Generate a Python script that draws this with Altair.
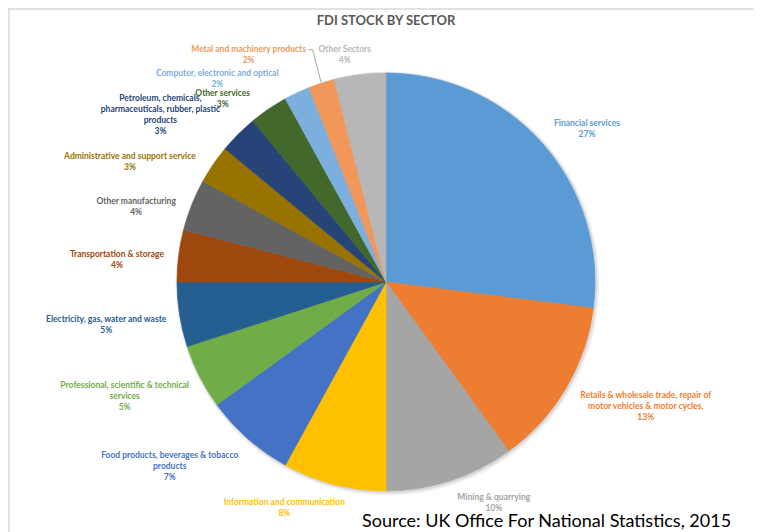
import math
import altair as alt
import numpy as np
import pandas as pd

# ---------------- data ----------------
sectors = [
    "Financial services",
    "Retails & wholesale trade, repair of motor vehicles & motor cycles,",
    "Mining & quarrying",
    "Information and communication",
    "Food products, beverages & tobacco products",
    "Professional, scientific & technical services",
    "Electricity, gas, water and waste",
    "Transportation  & storage",
    "Other manufacturing",
    "Administrative and support service",
    "Petroleum, chemicals, pharmaceuticals, rubber, plastic products",
    "Other services",
    "Computer, electronic and optical",
    "Metal and machinery products",
    "Other Sectors",
]
values = [27, 13, 10, 8, 7, 5, 5, 4, 4, 3, 3, 3, 2, 2, 4]

# label text as wrapped in the chart
label_names = [
    "Financial services",
    "Retails & wholesale trade, repair of\nmotor vehicles & motor cycles,",
    "Mining & quarrying",
    "Information and communication",
    "Food products, beverages & tobacco\nproducts",
    "Professional, scientific & technical\nservices",
    "Electricity, gas, water and waste",
    "Transportation  & storage",
    "Other manufacturing",
    "Administrative and support service",
    "Petroleum, chemicals,\npharmaceuticals, rubber, plastic\nproducts",
    "Other services",
    "Computer, electronic and optical",
    "Metal and machinery products",
    "Other Sectors",
]

# ---------------- styles / layout ----------------
colors = [
    "#5B9BD5", "#ED7D31", "#A5A5A5", "#FFC000", "#4472C4",
    "#70AD47", "#255E91", "#9E480E", "#636363", "#997300",
    "#264478", "#43682B", "#7CAFDD", "#F1975A", "#B7B7B7",
]
# label placement around the pie: angular nudge (deg) from slice middle, distance from centre (px)
label_nudge_deg = [4.0, -5.0, -8.1, 9.9, 8.2, 3.5, 0.4, -2.5, -4.8, -9.0, -8.4, -7.4, -14.5, -13.1, -3.1]
label_radius = [253, 288, 245, 247, 284, 285, 283, 270, 261, 283, 281, 246, 264, 266, 231]

W, H = 746, 524
cx, cy, R = 378, 274, 209
FONT = "Lato"
LH = 11  # label line height

# ---------------- derived table ----------------
total = sum(values)
cum = np.cumsum([0] + values[:-1])
mid = [(c + v / 2) / total * 360 for c, v in zip(cum, values)]
ang = [m + n for m, n in zip(mid, label_nudge_deg)]
labels_txt = [f"{n}\n{v}%" for n, v in zip(label_names, values)]
nlines = [t.count("\n") + 1 for t in labels_txt]
lx = [cx + r * math.sin(math.radians(a)) for a, r in zip(ang, label_radius)]
# block centre -> first line position
ly = [cy - r * math.cos(math.radians(a)) - (n - 1) * LH / 2
      for a, r, n in zip(ang, label_radius, nlines)]

df = pd.DataFrame({
    "idx": list(range(len(sectors))),
    "sector": sectors,
    "value": values,
    "label": labels_txt,
    "lx": lx,
    "ly": ly,
})

color_scale = alt.Scale(domain=sectors, range=colors)

one = pd.DataFrame({"k": [0]})

# frame
frame_top = alt.Chart(one).mark_rule(color="#d9d9d9", strokeWidth=1.5).encode(
    x=alt.value(0), x2=alt.value(W), y=alt.value(1))
frame_left = alt.Chart(one).mark_rule(color="#d9d9d9", strokeWidth=1.5).encode(
    x=alt.value(1), y=alt.value(0), y2=alt.value(H))

# soft shadow
shadow1 = alt.Chart(one).mark_arc(radius=R + 3, theta=0, theta2=2 * math.pi,
                                  color="#000000", opacity=0.05).encode(
    x=alt.value(cx + 1.5), y=alt.value(cy + 1.5))
shadow2 = alt.Chart(one).mark_arc(radius=R + 1.5, theta=0, theta2=2 * math.pi,
                                  color="#000000", opacity=0.10).encode(
    x=alt.value(cx + 1), y=alt.value(cy + 1))

pie = alt.Chart(df).mark_arc(radius=R, strokeWidth=0.6).encode(
    theta=alt.Theta("value:Q", stack=True),
    order=alt.Order("idx:Q"),
    color=alt.Color("sector:N", scale=color_scale, legend=None),
    stroke=alt.Color("sector:N", scale=color_scale, legend=None),
    x=alt.value(cx),
    y=alt.value(cy),
)

labels = alt.Chart(df).mark_text(
    font=FONT, fontSize=8.5, fontWeight="bold", lineBreak="\n", lineHeight=LH,
    align="center", baseline="middle",
).encode(
    x=alt.X("lx:Q", scale=None),
    y=alt.Y("ly:Q", scale=None),
    text="label:N",
    color=alt.Color("sector:N", scale=color_scale, legend=None),
)

# leader line for the metal label
mi = sectors.index("Metal and machinery products")
ma = math.radians(mid[mi])
leader_df = pd.DataFrame({
    "o": [0, 1, 2],
    "x": [lx[mi] + 60, lx[mi] + 64, cx + (R + 1) * math.sin(ma)],
    "y": [ly[mi] + 1, ly[mi] + 1, cy - (R + 1) * math.cos(ma)],
})
leader = alt.Chart(leader_df).mark_line(color="#a6a6a6", strokeWidth=1).encode(
    x=alt.X("x:Q", scale=None), y=alt.Y("y:Q", scale=None), order="o:Q")

title = alt.Chart(one).mark_text(
    font=FONT, fontSize=13, fontWeight="bold", color="#595959",
    align="center", baseline="middle",
).encode(x=alt.value(cx), y=alt.value(13), text=alt.value("FDI STOCK BY SECTOR"))

source = alt.Chart(one).mark_text(
    font=FONT, fontSize=18, color="#000000", align="left", baseline="middle",
).encode(x=alt.value(354), y=alt.value(514),
         text=alt.value("Source: UK Office For National Statistics, 2015"))

chart = alt.layer(
    frame_top, frame_left, shadow1, shadow2, pie, leader, labels, title, source
).properties(
    width=W, height=H, padding=0,
    autosize=alt.AutoSizeParams(type="none"),
).configure_view(strokeWidth=0)

chart.save("out.html", embed_options={"renderer": "svg", "actions": False})
